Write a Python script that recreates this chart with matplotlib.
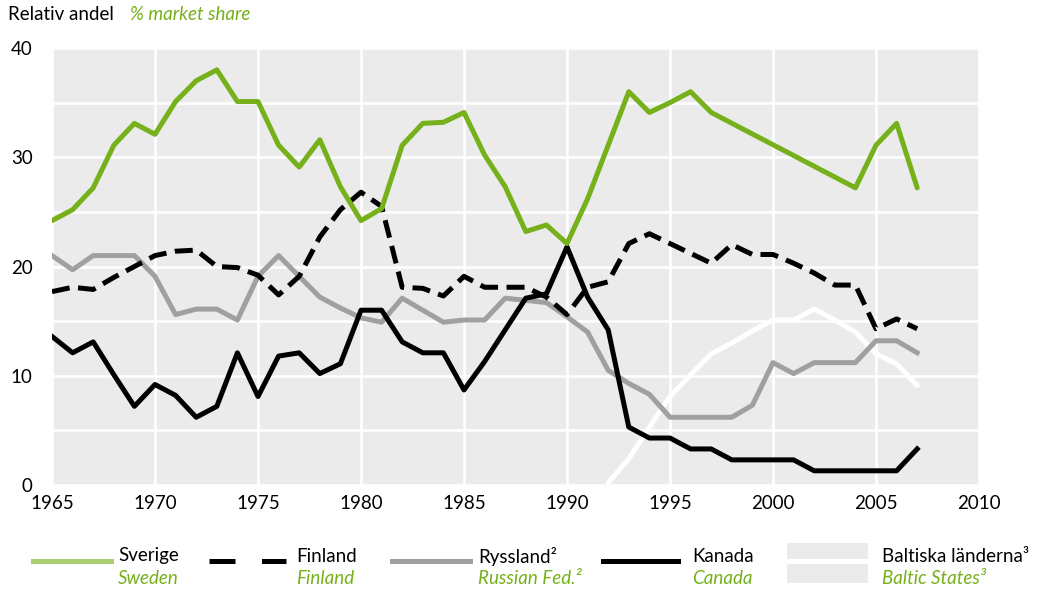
import numpy as np
import matplotlib.pyplot as plt
from matplotlib.lines import Line2D
from matplotlib.patches import Rectangle

plt.rcParams['font.family'] = ['Lato', 'DejaVu Sans']

GREEN = '#76b01a'
GREEN_LIGHT = '#a9cf72'
GRAY = '#a0a0a0'
BG = '#ebebeb'
FS = 13.5

# Market share in percent
years_se = [1965, 1966, 1967, 1968, 1969, 1970, 1971, 1972, 1973, 1974, 1975,
            1976, 1977, 1978, 1979, 1980, 1981, 1982, 1983, 1984, 1985, 1986,
            1987, 1988, 1989, 1990, 1991, 1992, 1993, 1994, 1995, 1996, 1997,
            2004, 2005, 2006, 2007]
sverige = [24.2, 25.2, 27.2, 31.1, 33.1, 32.1, 35.1, 37.0, 38.0, 35.1, 35.1,
           31.1, 29.1, 31.6, 27.3, 24.2, 25.3, 31.1, 33.1, 33.2, 34.1, 30.2,
           27.3, 23.2, 23.8, 22.1, 26.2, 31.1, 36.0, 34.1, 35.0, 36.0, 34.1,
           27.2, 31.1, 33.1, 27.2]

years = list(range(1965, 2008))
finland = [17.7, 18.1, 17.9, 19.0, 20.0, 21.0, 21.4, 21.5, 20.0, 19.9, 19.2,
           17.4, 19.1, 22.7, 25.2, 26.8, 25.5, 18.1, 18.0, 17.3, 19.1, 18.1,
           18.1, 18.1, 17.2, 15.6, 18.1, 18.6, 22.1, 23.0, 22.1, 21.2, 20.3,
           22.0, 21.1, 21.1, 20.3, 19.4, 18.3, 18.3, 14.3, 15.2, 14.3]
ryssland = [21.0, 19.7, 21.0, 21.0, 21.0, 19.1, 15.6, 16.1, 16.1, 15.1, 19.1,
            21.0, 19.1, 17.2, 16.2, 15.3, 14.9, 17.1, 16.0, 14.9, 15.1, 15.1,
            17.1, 16.9, 16.7, 15.4, 14.0, 10.5, 9.3, 8.3, 6.2, 6.2, 6.2,
            6.2, 7.3, 11.2, 10.2, 11.2, 11.2, 11.2, 13.2, 13.2, 12.1]
kanada = [13.6, 12.1, 13.1, 10.1, 7.2, 9.2, 8.2, 6.2, 7.2, 12.1, 8.1,
          11.8, 12.1, 10.2, 11.1, 16.0, 16.0, 13.1, 12.1, 12.1, 8.7, 11.3,
          14.2, 17.1, 17.5, 21.8, 17.2, 14.2, 5.3, 4.3, 4.3, 3.3, 3.3,
          2.3, 2.3, 2.3, 2.3, 1.3, 1.3, 1.3, 1.3, 1.3, 3.3]

years_bal = list(range(1992, 2008))
baltikum = [0.2, 2.4, 5.3, 8.1, 10.1, 12.0, 13.0, 14.1, 15.1, 15.1, 16.1,
            15.1, 14.0, 12.0, 11.1, 9.1]

W, H = 1046, 592
fig = plt.figure(figsize=(W / 100, H / 100), dpi=100)
ax = fig.add_axes([52 / W, 1 - 485 / H, (979 - 52) / W, (485 - 48) / H])
ax.set_facecolor(BG)

lw = 3.6
ax.plot(years_bal, baltikum, color='white', lw=lw, solid_capstyle='round', zorder=3)
ax.plot(years, ryssland, color=GRAY, lw=lw, zorder=4)
ax.plot(years, finland, color='black', lw=lw, dashes=(3.6, 1.7), zorder=5)
ax.plot(years, kanada, color='black', lw=lw, zorder=6)
ax.plot(years_se, sverige, color=GREEN, lw=lw, solid_capstyle='round', zorder=7)

ax.set_xlim(1965, 2010)
ax.set_ylim(0, 40)
ax.set_xticks(np.arange(1965, 2011, 5))
ax.set_yticks([0, 10, 20, 30, 40])
ax.set_yticks([5, 15, 25, 35], minor=True)
ax.grid(which='both', color='white', lw=1.8)
ax.set_axisbelow(True)
for s in ax.spines.values():
    s.set_visible(False)
ax.tick_params(which='both', length=0, labelsize=FS)
ax.tick_params(axis='y', pad=14)
ax.tick_params(axis='x', pad=7)

fig.text(8 / W, 1 - 14 / H, 'Relativ andel', fontsize=FS, va='center')
fig.text(130 / W, 1 - 14 / H, '% market share', fontsize=FS, va='center',
         color=GREEN, style='italic')


def fx(x):
    return x / W


def fy(y):
    return 1 - y / H


# legend entries: handle line, Swedish label, English label
ly = 561
entries = [
    (33, 111, dict(color=GREEN_LIGHT), 118, 'Sverige', 'Sweden'),
    (209, 286, dict(color='black', dashes=(5.2, 5.3)), 296, 'Finland', 'Finland'),
    (392, 470, dict(color=GRAY), 478, 'Ryssland²', 'Russian Fed.²'),
    (603, 678, dict(color='black'), 692, 'Kanada', 'Canada'),
]
for x0, x1, style, tx, sv, en in entries:
    fig.add_artist(Line2D([fx(x0), fx(x1)], [fy(ly), fy(ly)], lw=3.6,
                          transform=fig.transFigure, **style))
    fig.text(fx(tx), fy(556), sv, fontsize=FS, va='center')
    fig.text(fx(tx), fy(578), en, fontsize=FS, va='center', color=GREEN,
             style='italic')

fig.add_artist(Rectangle((fx(787), fy(583)), (868 - 787) / W, 40 / H,
                         transform=fig.transFigure, color=BG, lw=0))
fig.add_artist(Line2D([fx(789), fx(866)], [fy(ly), fy(ly)], lw=3.6,
                      color='white', transform=fig.transFigure))
fig.text(fx(882), fy(556), 'Baltiska länderna³', fontsize=FS, va='center')
fig.text(fx(882), fy(578), 'Baltic States³', fontsize=FS, va='center',
         color=GREEN, style='italic')

fig.savefig('out.png', dpi=100)
